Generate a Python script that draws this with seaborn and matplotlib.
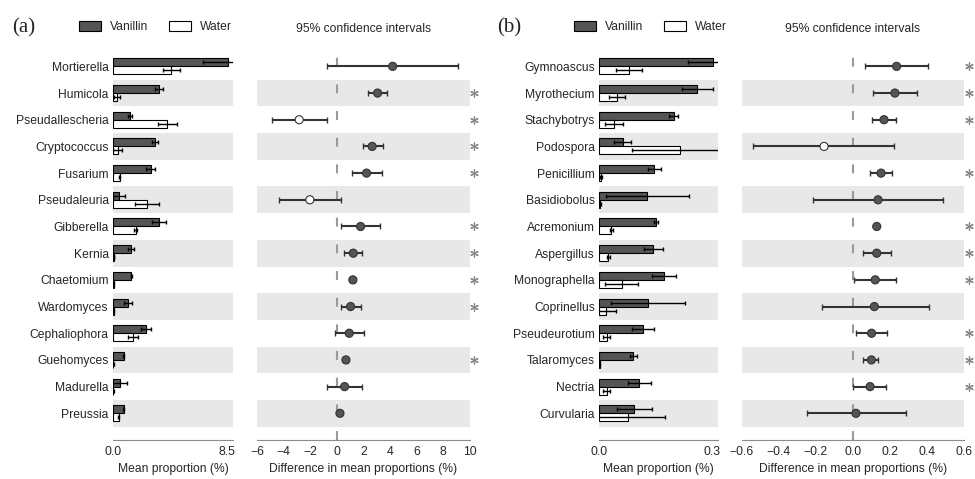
import numpy as np
import pandas as pd
import matplotlib.pyplot as plt
import matplotlib.transforms as mtransforms
from matplotlib.patches import Patch
import seaborn as sns

# panel (a): mean proportions (%) and 95% CI of the difference
genera_a = ["Mortierella", "Humicola", "Pseudallescheria", "Cryptococcus", "Fusarium",
            "Pseudaleuria", "Gibberella", "Kernia", "Chaetomium", "Wardomyces",
            "Cephaliophora", "Guehomyces", "Madurella", "Preussia"]
van_a     = [8.55, 3.44, 1.25, 3.14, 2.80, 0.45, 3.44, 1.32, 1.37, 1.12, 2.44, 0.80, 0.50, 0.80]
van_a_err = [1.82, 0.30, 0.14, 0.25, 0.32, 0.42, 0.50, 0.22, 0.05, 0.30, 0.37, 0.05, 0.55, 0.05]
wat_a     = [4.36, 0.30, 4.04, 0.35, 0.50, 2.54, 1.70, 0.07, 0.05, 0.05, 1.50, 0.03, 0.02, 0.43]
wat_a_err = [0.62, 0.20, 0.72, 0.32, 0.05, 0.90, 0.10, 0.03, 0.02, 0.02, 0.37, 0.02, 0.02, 0.05]
diff_a = [4.19, 3.06, -2.83, 2.65, 2.23, -2.03, 1.78, 1.23, 1.20, 1.03, 0.93, 0.68, 0.58, 0.23]
lo_a   = [-0.73, 2.33, -4.86, 1.93, 1.10, -4.34, 0.32, 0.55, 1.05, 0.28, -0.15, 0.55, -0.77, 0.10]
hi_a   = [9.10, 3.80, -0.75, 3.43, 3.36, 0.30, 3.23, 1.88, 1.35, 1.83, 2.05, 0.80, 1.90, 0.35]
sig_a  = [False, True, True, True, True, False, True, True, True, True, False, True, False, False]

# panel (b)
genera_b = ["Gymnoascus", "Myrothecium", "Stachybotrys", "Podospora", "Penicillium",
            "Basidiobolus", "Acremonium", "Aspergillus", "Monographella", "Coprinellus",
            "Pseudeurotium", "Talaromyces", "Nectria", "Curvularia"]
van_b     = [0.301, 0.260, 0.198, 0.063, 0.147, 0.128, 0.151, 0.144, 0.172, 0.129, 0.116, 0.091, 0.107, 0.094]
van_b_err = [0.064, 0.041, 0.012, 0.022, 0.018, 0.110, 0.005, 0.025, 0.032, 0.098, 0.029, 0.010, 0.031, 0.046]
wat_b     = [0.080, 0.047, 0.040, 0.214, 0.005, 0.003, 0.033, 0.025, 0.060, 0.019, 0.020, 0.002, 0.020, 0.077]
wat_b_err = [0.034, 0.021, 0.023, 0.126, 0.002, 0.002, 0.004, 0.005, 0.043, 0.025, 0.010, 0.001, 0.010, 0.098]
diff_b = [0.235, 0.226, 0.167, -0.156, 0.151, 0.135, 0.128, 0.128, 0.120, 0.115, 0.100, 0.099, 0.092, 0.016]
lo_b   = [0.065, 0.110, 0.100, -0.540, 0.092, -0.217, 0.120, 0.052, 0.007, -0.169, 0.016, 0.056, 0.002, -0.246]
hi_b   = [0.404, 0.343, 0.232, 0.223, 0.208, 0.483, 0.136, 0.203, 0.232, 0.408, 0.185, 0.135, 0.178, 0.285]
sig_b  = [True, True, True, False, True, False, True, True, True, False, True, True, True, False]

sns.set_style("white")
plt.rcParams["font.family"] = ["Liberation Sans", "DejaVu Sans"]
plt.rcParams["font.size"] = 8.7

DARK  = "#555555"
BAND  = "#e8e8e8"
SPINE = "#8c8c8c"
TEXT  = "#262626"
W, H = 975, 479

fig = plt.figure(figsize=(W / 100, H / 100), dpi=100)


def draw_panel(bar_px, ci_px, genera, van, van_err, wat, wat_err, diff, lo, hi, sig,
               bar_max, bar_right, ci_ticks, ci_lim, label, label_x, legend_x):
    n = len(genera)
    rows = np.arange(n)
    bottom, height = 39 / H, 395 / H
    ax_bar = fig.add_axes([bar_px[0] / W, bottom, (bar_px[1] - bar_px[0]) / W, height])
    ax_ci = fig.add_axes([ci_px[0] / W, bottom, (ci_px[1] - ci_px[0]) / W, height])

    # grouped horizontal bars
    df = pd.DataFrame({
        "genus": genera * 2,
        "value": van + wat,
        "group": ["Vanillin"] * n + ["Water"] * n,
    })
    sns.barplot(data=df, x="value", y="genus", hue="group", order=genera,
                hue_order=["Vanillin", "Water"], palette={"Vanillin": DARK, "Water": "white"},
                width=0.6, errorbar=None, edgecolor="black", linewidth=0.8,
                saturation=1, legend=False, ax=ax_bar, zorder=2)
    ax_bar.errorbar(van, rows - 0.15, xerr=van_err, fmt="none", ecolor="black",
                    elinewidth=1, capsize=1.5, zorder=3)
    ax_bar.errorbar(wat, rows + 0.15, xerr=wat_err, fmt="none", ecolor="black",
                    elinewidth=1, capsize=1.5, zorder=3)

    # difference with 95% CI
    diff = np.array(diff)
    side = ["Vanillin" if d > 0 else "Water" for d in diff]
    ax_ci.axvline(0, color="#9a9a9a", lw=1.5, ls=(0, (4.3, 8.5)), zorder=1)
    ax_ci.errorbar(diff, rows, xerr=[diff - np.array(lo), np.array(hi) - diff], fmt="none",
                   ecolor="#333333", elinewidth=1.5, capsize=2.5, capthick=1, zorder=3)
    sns.scatterplot(x=diff, y=rows, hue=side, palette={"Vanillin": DARK, "Water": "white"},
                    s=34, edgecolor="#333333", linewidth=0.8, legend=False, zorder=4, ax=ax_ci)

    for ax in (ax_bar, ax_ci):
        for i in rows[1::2]:
            ax.axhspan(i - 0.5, i + 0.5, color=BAND, lw=0, zorder=0)
        ax.set_ylim(n, -0.8)
        ax.spines[["left", "top", "right"]].set_visible(False)
        ax.spines["bottom"].set_color(SPINE)
        ax.tick_params(axis="x", direction="in", length=4, width=1, color=SPINE,
                       labelcolor=TEXT, pad=4)

    ax_bar.set_xlim(0, bar_right)
    ax_bar.set_xticks([0, bar_max])
    ax_bar.set_xticklabels([f"{0:.1f}", f"{bar_max:.1f}"])
    ax_bar.set_ylabel("")
    ax_bar.set_xlabel("Mean proportion (%)", labelpad=4, color=TEXT)
    ax_bar.tick_params(axis="y", length=0, pad=3, labelcolor=TEXT)

    ax_ci.set_xlim(ci_lim)
    ax_ci.set_xticks(ci_ticks)
    ax_ci.set_yticks([])
    ax_ci.set_xlabel("Difference in mean proportions (%)", labelpad=4, color=TEXT)
    ax_ci.set_title("95% confidence intervals", pad=9, fontsize=8.7, color=TEXT)

    # significance asterisks just right of the CI axes
    star_tr = mtransforms.blended_transform_factory(ax_ci.transAxes, ax_ci.transData)
    star_rows = rows[np.array(sig)]
    ax_ci.scatter(np.full(len(star_rows), 1.019), star_rows, marker=(6, 2, 0), s=30,
                  color="#8a8a8a", linewidths=0.9, transform=star_tr, clip_on=False)

    handles = [Patch(facecolor=DARK, edgecolor="black", lw=0.8, label="Vanillin"),
               Patch(facecolor="white", edgecolor="black", lw=0.8, label="Water")]
    fig.legend(handles=handles, loc="center right", bbox_to_anchor=(legend_x, 1 - 27 / H),
               ncol=2, frameon=False, handlelength=1.8, handleheight=0.85,
               handletextpad=0.75, columnspacing=1.75, borderpad=0, borderaxespad=0,
               fontsize=8.7, labelcolor=TEXT)
    fig.text(label_x, 1 - 28 / H, label, family=["Liberation Serif", "DejaVu Serif"],
             fontsize=15, va="center", color=TEXT)


draw_panel((113, 233), (257, 470), genera_a, van_a, van_a_err, wat_a, wat_a_err,
           diff_a, lo_a, hi_a, sig_a, 8.5, 8.95, np.arange(-6, 11, 2), (-6, 10),
           "(a)", 12 / W, 232 / W)
draw_panel((599, 718.3), (741.7, 964.3), genera_b, van_b, van_b_err, wat_b, wat_b_err,
           diff_b, lo_b, hi_b, sig_b, 0.3, 0.316, np.linspace(-0.6, 0.6, 7), (-0.6, 0.6),
           "(b)", 497 / W, 727 / W)

fig.savefig("out.png", dpi=100)
